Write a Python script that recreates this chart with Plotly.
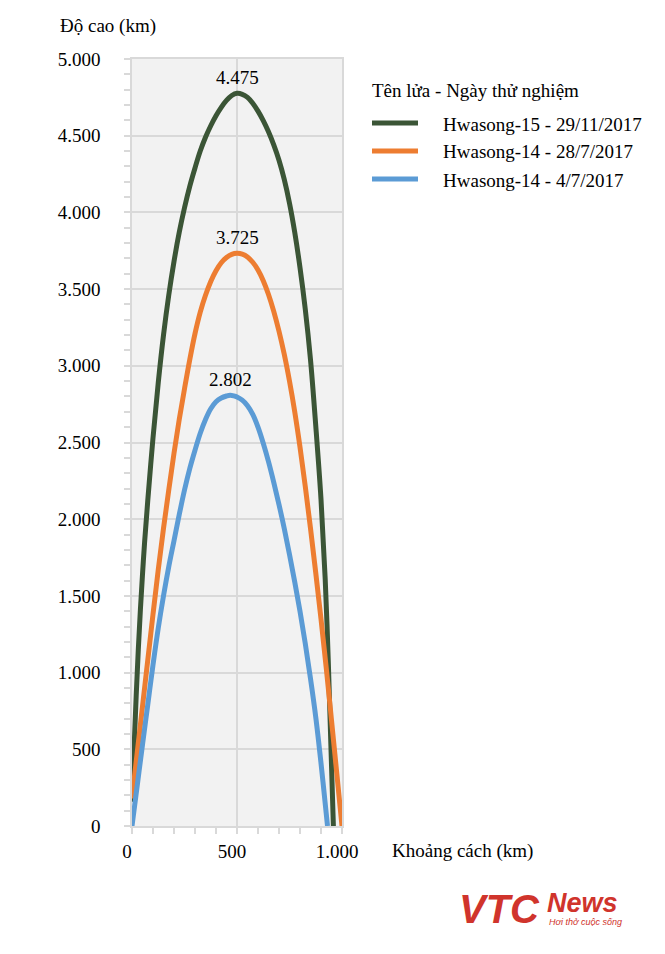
import plotly.graph_objects as go

# ---------------- data ----------------
series_names = ["Hwasong-15 - 29/11/2017", "Hwasong-14 - 28/7/2017", "Hwasong-14 - 4/7/2017"]
series_colors = ["#3b5536", "#ed7d31", "#5b9bd5"]
peak_labels = ["4.475", "3.725", "2.802"]

h15_x = [0, 10, 20, 30, 40, 50, 60, 75, 100, 125, 150, 175, 200, 225, 250, 275, 300, 325, 350, 375, 400, 425, 450, 475,
         500, 525, 550, 575, 600, 625, 650, 675, 700, 725, 750, 775, 800, 825, 850, 875, 900, 920, 935, 947, 959]
h15_y = [158, 510, 850, 1150, 1410, 1640, 1850, 2120, 2530, 2890, 3200, 3460, 3680, 3870, 4030, 4170, 4290, 4400, 4490, 4565, 4630, 4685, 4730, 4762,
         4776, 4770, 4750, 4712, 4660, 4598, 4525, 4440, 4340, 4215, 4060, 3870, 3640, 3370, 3040, 2610, 2130, 1610, 1060, 530, 0]

h14b_x = [0, 25, 50, 75, 100, 125, 150, 175, 200, 225, 250, 275, 300, 325, 350, 375, 400, 425, 450, 475,
          500, 525, 550, 575, 600, 625, 650, 675, 700, 725, 750, 775, 800, 825, 850, 875, 900, 925, 950, 975, 1000]
h14b_y = [180, 480, 780, 1080, 1380, 1670, 1940, 2190, 2430, 2650, 2850, 3040, 3210, 3350, 3460, 3550, 3620, 3672, 3706, 3726,
          3733, 3728, 3710, 3675, 3625, 3555, 3465, 3355, 3225, 3075, 2900, 2700, 2470, 2215, 1940, 1650, 1350, 1030, 690, 345, 0]

h14a_x = [0, 25, 50, 75, 100, 125, 150, 175, 200, 225, 250, 275, 300, 325, 350, 375, 400, 425, 450, 467,
          485, 500, 525, 550, 575, 600, 625, 650, 675, 700, 725, 750, 775, 800, 825, 850, 875, 900, 925, 931]
h14a_y = [0, 265, 530, 790, 1050, 1290, 1500, 1690, 1860, 2030, 2190, 2330, 2450, 2560, 2650, 2720, 2766, 2790, 2803, 2808,
          2804, 2797, 2776, 2740, 2683, 2600, 2495, 2375, 2240, 2095, 1940, 1770, 1590, 1400, 1190, 960, 710, 410, 80, 0]

y_tickvals = [0, 500, 1000, 1500, 2000, 2500, 3000, 3500, 4000, 4500, 5000]
y_ticktext = ["0", "500", "1.000", "1.500", "2.000", "2.500", "3.000", "3.500", "4.000", "4.500", "5.000"]
x_tickvals = [0, 500, 1000]
x_ticktext = ["0", "500", "1.000"]

legend_title = "Tên lửa - Ngày thử nghiệm"
y_title = "Độ cao (km)"
x_title = "Khoảng cách (km)"

# ---------------- figure ----------------
# the page body adds an 8px offset; the figure is sized to compensate
W, H = 657, 938
PLOT_L, PLOT_T, PW, PH = 132, 59, 210, 767   # plot area in window pixels
L, T = PLOT_L - 8, PLOT_T - 8
R = W - L - PW
B = H - T - PH

def px_x(px):
    return (px - PLOT_L) / PW

def px_y(py):
    return (PLOT_T + PH - py) / PH

FONT = "Liberation Serif, Times New Roman, serif"
GRID = "#d9d9d9"

fig = go.Figure()
xs = [h15_x, h14b_x, h14a_x]
ys = [h15_y, h14b_y, h14a_y]
for name, color, x, y in zip(series_names, series_colors, xs, ys):
    fig.add_trace(go.Scatter(
        x=x, y=y, name=name, mode="lines",
        line=dict(color=color, width=5, shape="spline", smoothing=1.0),
        showlegend=False, hoverinfo="skip",
    ))

# peak labels
for lab, x, y in zip(peak_labels, xs, ys):
    i = y.index(max(y))
    fig.add_annotation(x=x[i], y=y[i], xref="x", yref="y", text=lab,
                       showarrow=False, yanchor="middle", yshift=16,
                       font=dict(family=FONT, size=19, color="black"))

# axis titles
fig.add_annotation(x=px_x(58), y=px_y(26), xref="paper", yref="paper", text=y_title,
                   showarrow=False, xanchor="left", yanchor="middle",
                   font=dict(family=FONT, size=19, color="black"))
fig.add_annotation(x=px_x(390), y=px_y(851), xref="paper", yref="paper", text=x_title,
                   showarrow=False, xanchor="left", yanchor="middle",
                   font=dict(family=FONT, size=19, color="black"))

# manual legend
fig.add_annotation(x=px_x(370), y=px_y(91), xref="paper", yref="paper", text=legend_title,
                   showarrow=False, xanchor="left", yanchor="middle",
                   font=dict(family=FONT, size=19, color="black"))
leg_rows = [123, 151, 179]
for name, color, ry in zip(series_names, series_colors, leg_rows):
    fig.add_shape(type="line", xref="paper", yref="paper",
                  x0=px_x(372), x1=px_x(418), y0=px_y(ry), y1=px_y(ry),
                  line=dict(color=color, width=5))
    fig.add_annotation(x=px_x(441), y=px_y(ry + 1), xref="paper", yref="paper", text=name,
                       showarrow=False, xanchor="left", yanchor="middle",
                       font=dict(family=FONT, size=19, color="black"))

# logo
LOGO = "#d0342c"
fig.add_annotation(x=px_x(457), y=px_y(909), xref="paper", yref="paper",
                   text="<b><i>VTC</i></b>", showarrow=False, xanchor="left", yanchor="middle",
                   font=dict(family="Liberation Sans, Arial, sans-serif", size=40, color=LOGO))
fig.add_annotation(x=px_x(545), y=px_y(903), xref="paper", yref="paper",
                   text="<b><i>News</i></b>", showarrow=False, xanchor="left", yanchor="middle",
                   font=dict(family="Liberation Sans, Arial, sans-serif", size=27, color=LOGO))
fig.add_annotation(x=px_x(547), y=px_y(922), xref="paper", yref="paper",
                   text="<i>Hơi thở cuộc sống</i>", showarrow=False, xanchor="left", yanchor="middle",
                   font=dict(family="Liberation Sans, Arial, sans-serif", size=9, color=LOGO))

fig.update_layout(
    width=W, height=H,
    margin=dict(l=L, r=R, t=T, b=B, pad=0),
    paper_bgcolor="white", plot_bgcolor="#f2f2f2",
    showlegend=False,
    font=dict(family=FONT, size=19, color="black"),
)
fig.update_xaxes(
    range=[0, 1000], tickvals=x_tickvals, ticktext=x_ticktext,
    showgrid=True, gridcolor=GRID, gridwidth=1.5, zeroline=False,
    showline=True, linecolor=GRID, linewidth=1.5, mirror=True,
    ticks="outside", ticklen=6, tickcolor=GRID, tickwidth=1.5,
    minor=dict(dtick=100, tick0=0, ticks="outside", ticklen=6, tickcolor=GRID, tickwidth=1.5, showgrid=False),
    tickfont=dict(family=FONT, size=19, color="black"), ticklabelshift=-5, ticklabelstandoff=1,
    fixedrange=True,
)
fig.update_yaxes(
    range=[0, 5000], tickvals=y_tickvals, ticktext=y_ticktext,
    showgrid=True, gridcolor=GRID, gridwidth=1.5, zeroline=False,
    showline=True, linecolor=GRID, linewidth=1.5, mirror=True,
    ticks="outside", ticklen=6, tickcolor=GRID, tickwidth=1.5,
    minor=dict(dtick=100, tick0=0, ticks="outside", ticklen=6, tickcolor=GRID, tickwidth=1.5, showgrid=False),
    tickfont=dict(family=FONT, size=19, color="black"), ticklabelstandoff=20,
    fixedrange=True,
)

fig.write_html("out.html")
